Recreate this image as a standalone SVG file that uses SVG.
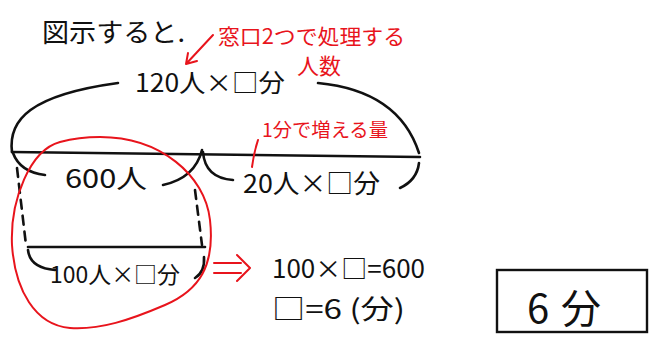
<svg xmlns="http://www.w3.org/2000/svg" width="656" height="337" viewBox="0 0 656 337">
<style>
.k{fill:none;stroke:#111;stroke-width:2.6;stroke-linecap:round;stroke-linejoin:round}
.r{fill:none;stroke:#e8141c;stroke-width:2;stroke-linecap:round;stroke-linejoin:round}
.d{stroke-dasharray:9 7}
.t{font-family:"Noto Sans CJK JP","Noto Sans",sans-serif;fill:#111}
.tr{font-family:"Noto Sans CJK JP","Noto Sans",sans-serif;fill:#e8141c}
</style>
<rect width="656" height="337" fill="#fff"/>
<g id="title"><text class="t" x="42" y="42" font-size="26" textLength="143" lengthAdjust="spacingAndGlyphs">図示すると.</text></g>
<g id="note-people"><text class="tr" x="218" y="44" font-size="21" textLength="187" lengthAdjust="spacingAndGlyphs">窓口2つで処理する</text><text class="tr" x="297" y="74" font-size="22" textLength="44" lengthAdjust="spacingAndGlyphs">人数</text></g>
<g id="total"><text class="t" x="135" y="92" font-size="25" textLength="150" lengthAdjust="spacingAndGlyphs">120人×□分</text></g>
<g id="note-increase"><text class="tr" x="262" y="137" font-size="19" textLength="126" lengthAdjust="spacingAndGlyphs">1分で増える量</text></g>
<g id="initial"><text class="t" x="65" y="188" font-size="26" textLength="82" lengthAdjust="spacingAndGlyphs">600人</text></g>
<g id="added"><text class="t" x="243" y="193" font-size="26" textLength="137" lengthAdjust="spacingAndGlyphs">20人×□分</text></g>
<g id="net"><text class="t" x="50" y="283" font-size="23" textLength="130" lengthAdjust="spacingAndGlyphs">100人×□分</text></g>
<g id="eq1"><text class="t" x="272" y="278" font-size="25" textLength="153" lengthAdjust="spacingAndGlyphs">100×□=600</text></g>
<g id="eq2"><text class="t" x="272" y="319" font-size="27" textLength="133" lengthAdjust="spacingAndGlyphs">□=6 (分)</text></g>
<g id="answer"><rect x="497" y="270" width="150" height="62" fill="none" stroke="#111" stroke-width="2.4"/><text class="t" x="527" y="323" font-size="40" textLength="74" lengthAdjust="spacing">6分</text></g>
<g id="connectors">
<path class="k" d="M12,152 C8,120 30,95 118,83"/>
<path class="k" d="M318,83 C370,88 405,110 419,153"/>
<path class="k" d="M12,152 L420,157"/>
<path class="k" d="M13,153 Q20,172 45,175"/>
<path class="k" d="M163,185 Q195,178 202,150"/>
<path class="k" d="M203,152 Q205,178 233,180"/>
<path class="k" d="M400,188 Q417,180 419,163"/>
<path class="k d" d="M17,168 L26,245"/>
<path class="k d" d="M195,190 L202,245"/>
<path class="k" d="M28,247 L205,247"/>
<path class="k" d="M28,250 Q30,268 55,270"/>
<path class="k" d="M195,278 Q205,272 204,257"/>
<path class="r" d="M213,35 L186,64 M186,64 L188,53 M186,64 L197,61"/>
<path class="r" d="M258,140 Q254,152 252,167"/>
<path class="r" d="M100,137 C160,137 205,175 210,220 C215,265 200,290 165,305 C130,320 100,330 70,328 C35,325 15,290 12,245 C10,200 30,150 60,142 C75,138 90,137 100,137 Z"/>
<path class="r" d="M214,263 L241,263 M214,273 L241,273 M237,255 L250,268 L237,281"/>
</g>
</svg>
